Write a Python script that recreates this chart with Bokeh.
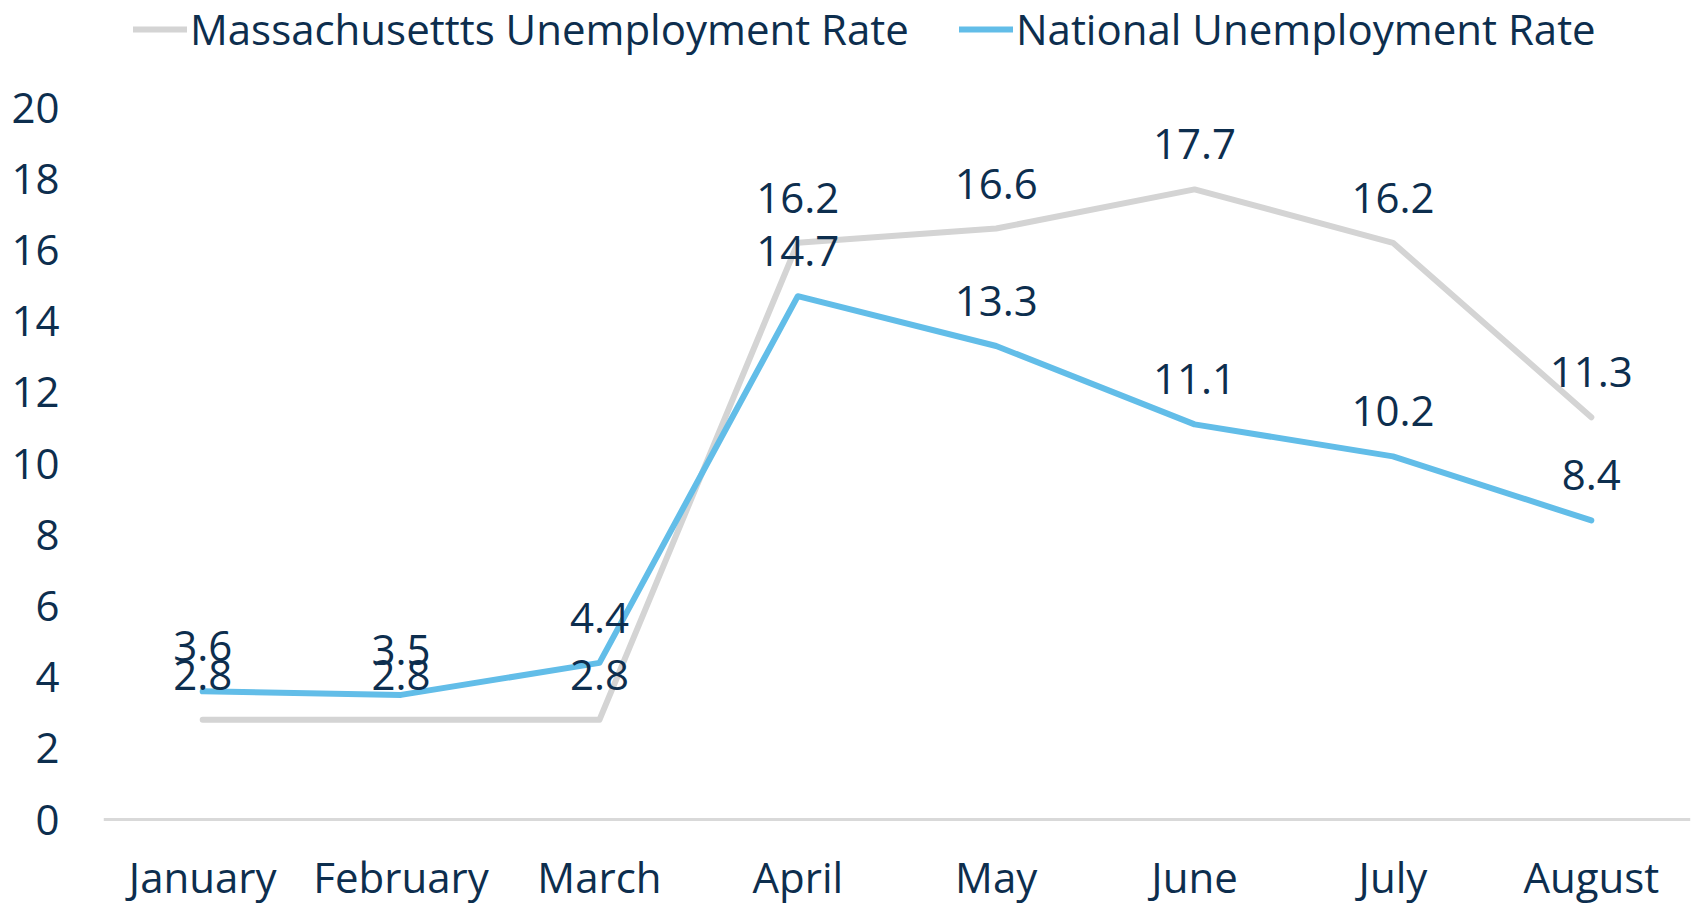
from bokeh.plotting import figure
from bokeh.models import ColumnDataSource, Legend, LegendItem, FixedTicker, Range1d, FactorRange, Span
from bokeh.core.properties import value
from bokeh.embed import file_html
from bokeh.resources import INLINE

months = ["January", "February", "March", "April", "May", "June", "July", "August"]
ma_rate = [2.8, 2.8, 2.8, 16.2, 16.6, 17.7, 16.2, 11.3]
us_rate = [3.6, 3.5, 4.4, 14.7, 13.3, 11.1, 10.2, 8.4]
y_ticks = [0, 2, 4, 6, 8, 10, 12, 14, 16, 18, 20]
ma_name = "Massachusettts Unemployment Rate"
us_name = "National Unemployment Rate"

FONT = "Open Sans"
TXT = "#0D2E4E"
GRAY = "#D4D4D4"
BLUE = "#62BDE8"

W, H = 1696, 904
TOP, LEFT, RIGHT = 107, 103, 6     # pixel row of 20, left/right of plot area
ZERO_Y = 819                       # pixel row of the value 0
px_per_unit = (ZERO_Y - TOP) / 20.0
y_start = -(H - ZERO_Y) / px_per_unit
y_end = 20 + TOP / px_per_unit

def fmt(v):
    return f"{v:.1f}"

src = ColumnDataSource(dict(
    m=months, ma=ma_rate, us=us_rate,
    ma_lbl=[fmt(v) for v in ma_rate],
    us_lbl=[fmt(v) for v in us_rate],
    zero=[0] * len(months),
))

p = figure(width=W, height=H, x_range=FactorRange(*months, range_padding=0),
           y_range=Range1d(y_start, y_end), output_backend="svg", toolbar_location=None,
           min_border_left=LEFT, min_border_right=RIGHT, min_border_top=0, min_border_bottom=0)
p.outline_line_color = None
p.xgrid.grid_line_color = None
p.ygrid.grid_line_color = None
p.background_fill_color = "white"
p.border_fill_color = "white"

# category axis line at value 0
p.add_layout(Span(location=0, dimension="width", line_color="#D9D9D9", line_width=3))

r_ma = p.line("m", "ma", source=src, line_color=GRAY, line_width=6, line_cap="round", line_join="round")
r_us = p.line("m", "us", source=src, line_color=BLUE, line_width=6, line_cap="round", line_join="round")

for col in ["ma", "us"]:
    p.text("m", col, text=col + "_lbl", source=src, text_align="center", text_baseline="middle",
           y_offset=-45, text_font=value(FONT), text_font_size="42px", text_color=TXT)

# category labels below the axis line
p.text("m", "zero", text="m", source=src, text_align="center", text_baseline="middle",
       y_offset=57, text_line_height=1.0, text_font=value(FONT), text_font_size="42px", text_color=TXT)

p.xaxis.visible = False

p.yaxis.ticker = FixedTicker(ticks=y_ticks)
p.yaxis.axis_line_color = None
p.yaxis.major_tick_line_color = None
p.yaxis.minor_tick_line_color = None
p.yaxis.major_tick_out = 0
p.yaxis.major_label_text_font = FONT
p.yaxis.major_label_text_font_size = "42px"
p.yaxis.major_label_text_color = TXT
p.yaxis.major_label_standoff = 44

legend_h = 57
legend = Legend(items=[LegendItem(label=ma_name, renderers=[r_ma]),
                       LegendItem(label=us_name, renderers=[r_us])],
                orientation="horizontal", location=(30, H - legend_h),
                label_text_font=FONT, label_text_font_size="42px", label_text_color=TXT,
                label_text_line_height=1.0,
                glyph_width=54, glyph_height=40, label_standoff=3, spacing=50,
                padding=0, margin=0, border_line_color=None, background_fill_alpha=0)
p.add_layout(legend, "center")

open("out.html", "w").write(file_html(p, INLINE))
